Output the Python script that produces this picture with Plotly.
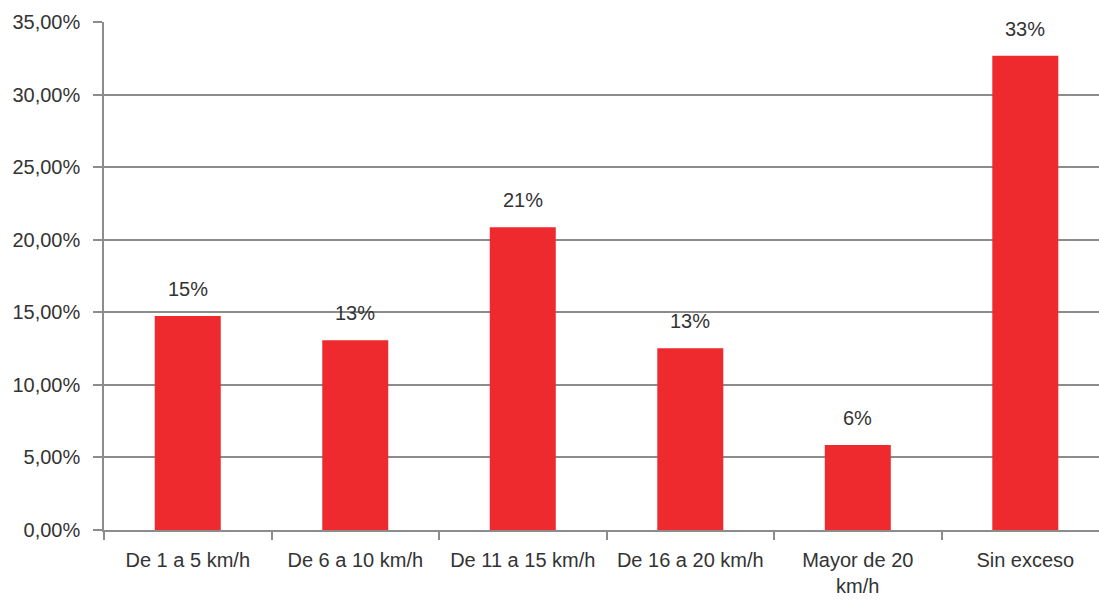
import plotly.graph_objects as go

categories = ["De 1 a 5 km/h", "De 6 a 10 km/h", "De 11 a 15 km/h",
              "De 16 a 20 km/h", "Mayor de 20 km/h", "Sin exceso"]
tick_labels = ["De 1 a 5 km/h", "De 6 a 10 km/h", "De 11 a 15 km/h",
               "De 16 a 20 km/h", "Mayor de 20<br>km/h", "Sin exceso"]
values = [14.74, 13.07, 20.86, 12.52, 5.85, 32.67]  # percent
labels = [f"{v:.0f}%" for v in values]

FONT = "Liberation Sans, Arial, sans-serif"
TXT = "#333333"
GRID = "#8c8c8c"

fig = go.Figure()
fig.add_trace(go.Bar(x=categories, y=values, marker=dict(color="#EE2A2E", line=dict(width=0)),
                     hoverinfo="skip"))

for c, v, t in zip(categories, values, labels):
    fig.add_annotation(x=c, y=v, text=t, showarrow=False, yanchor="middle", yshift=27,
                       font=dict(family=FONT, size=20, color=TXT))

fig.update_layout(
    width=1099, height=603,
    margin=dict(l=104, r=0, t=22, b=73),
    plot_bgcolor="white", paper_bgcolor="white",
    separators=",.",
    bargap=0.606,
    showlegend=False,
    font=dict(family=FONT, size=20, color=TXT),
)
fig.update_xaxes(
    type="category", range=[-0.5, 5.44], automargin=False,
    tickmode="array", tickvals=categories, ticktext=tick_labels,
    tickson="boundaries", ticks="outside", ticklen=8, tickcolor=GRID, tickwidth=1.5,
    showline=True, linecolor=GRID, linewidth=1.5,
    showgrid=False,
    ticklabelstandoff=11,
    tickfont=dict(family=FONT, size=20, color=TXT),
)
fig.update_yaxes(
    range=[0, 35], dtick=5, tick0=0, automargin=False,
    tickformat=".2f", ticksuffix="%",
    ticks="outside", ticklen=9, tickcolor=GRID, tickwidth=1.5,
    showline=True, linecolor=GRID, linewidth=1.5,
    showgrid=True, gridcolor=GRID, gridwidth=1.5,
    zeroline=False,
    ticklabelstandoff=9,
    tickfont=dict(family=FONT, size=20, color=TXT),
)

fig.write_html("out.html", config={"displayModeBar": False},
               post_script="document.body.style.margin='0';")
